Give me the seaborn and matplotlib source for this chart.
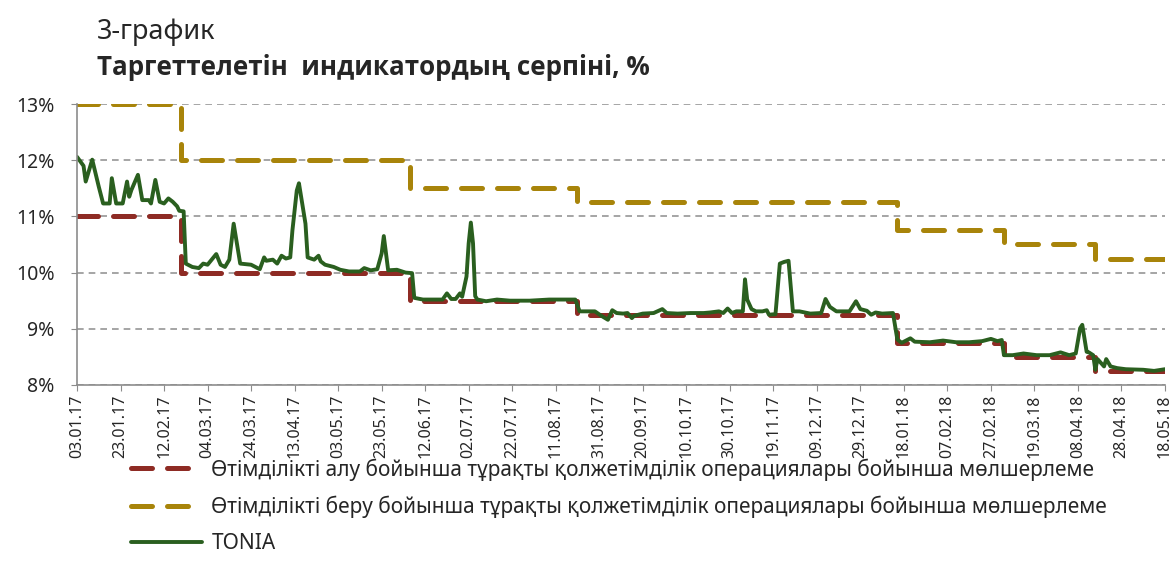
import pandas as pd
import numpy as np
import matplotlib
matplotlib.use('Agg')
import matplotlib.pyplot as plt
import matplotlib.dates as mdates
from matplotlib.ticker import FuncFormatter
import seaborn as sns

# corridor bounds (step start dates, rate in %)
band_dates = ['2017-01-03', '2017-02-20', '2017-06-05', '2017-08-21',
              '2018-01-15', '2018-03-05', '2018-04-16', '2018-05-18']
lower_rate = [11.0, 10.0, 9.5, 9.25, 8.75, 8.5, 8.25, 8.25]
upper_rate = [13.0, 12.0, 11.5, 11.25, 10.75, 10.5, 10.25, 10.25]

# TONIA (days after 03.01.2017, %)
tonia_day = [0, 3, 4, 7, 10, 12, 15, 16, 18, 21, 23, 24, 25, 28, 30, 33, 34, 36, 38, 40,
             42, 44, 46, 47, 49, 50, 53, 56, 58, 60, 64, 66, 68, 70, 72, 74, 75, 80, 84, 86,
             87, 90, 92, 94, 96, 98, 99, 101, 102, 103, 105, 106, 109, 111, 112, 114, 118, 121, 125, 130,
             132, 135, 138, 140, 141, 142, 143, 147, 151, 154, 155, 159, 166, 168, 170, 172, 174, 176, 177, 179,
             180, 181, 182, 183, 184, 188, 193, 199, 208, 217, 223, 229, 231, 234, 238, 241, 244, 246, 248, 251,
             253, 255, 256, 260, 265, 269, 271, 276, 282, 288, 291, 295, 297, 299, 301, 303, 306, 307, 308, 310,
             312, 315, 317, 318, 321, 323, 325, 327, 329, 332, 337, 342, 344, 346, 349, 355, 358, 360, 363, 365,
             367, 370, 375, 377, 379, 383, 385, 392, 398, 404, 410, 416, 420, 423, 425, 426, 430, 435, 441, 447,
             452, 456, 459, 461, 462, 464, 465, 467, 468, 469, 472, 473, 475, 478, 482, 490, 495, 500]
tonia_rate = [12.06, 11.90, 11.62, 12.01, 11.53, 11.23, 11.23, 11.68, 11.23, 11.23, 11.62, 11.35, 11.47, 11.74, 11.29, 11.29, 11.23, 11.65, 11.26, 11.23,
              11.32, 11.26, 11.18, 11.10, 11.09, 10.16, 10.10, 10.08, 10.16, 10.14, 10.33, 10.14, 10.10, 10.23, 10.87, 10.40, 10.16, 10.14, 10.06, 10.27,
              10.21, 10.23, 10.16, 10.30, 10.25, 10.27, 10.75, 11.46, 11.59, 11.35, 10.87, 10.27, 10.23, 10.30, 10.20, 10.14, 10.10, 10.05, 10.02, 10.02,
              10.08, 10.04, 10.06, 10.34, 10.65, 10.34, 10.04, 10.05, 10.00, 9.99, 9.55, 9.52, 9.52, 9.52, 9.63, 9.53, 9.53, 9.63, 9.57, 9.93,
              10.52, 10.89, 10.52, 9.58, 9.52, 9.49, 9.52, 9.50, 9.50, 9.52, 9.52, 9.52, 9.31, 9.31, 9.31, 9.23, 9.16, 9.33, 9.28, 9.27,
              9.28, 9.19, 9.23, 9.27, 9.28, 9.35, 9.28, 9.27, 9.28, 9.28, 9.29, 9.31, 9.28, 9.36, 9.28, 9.31, 9.31, 9.88, 9.52, 9.35,
              9.31, 9.31, 9.33, 9.25, 9.26, 10.16, 10.19, 10.21, 9.31, 9.31, 9.27, 9.28, 9.53, 9.39, 9.31, 9.31, 9.49, 9.35, 9.32, 9.25,
              9.29, 9.27, 9.28, 8.81, 8.75, 8.83, 8.77, 8.76, 8.79, 8.76, 8.76, 8.78, 8.82, 8.78, 8.80, 8.53, 8.53, 8.56, 8.53, 8.53,
              8.58, 8.53, 8.56, 9.01, 9.07, 8.59, 8.58, 8.53, 8.27, 8.46, 8.33, 8.46, 8.33, 8.30, 8.28, 8.27, 8.25, 8.28]

labels = ['Өтімділікті алу бойынша тұрақты қолжетімділік операциялары бойынша мөлшерлеме',
          'Өтімділікті беру бойынша тұрақты қолжетімділік операциялары бойынша мөлшерлеме',
          'TONIA']
colors = ['#8E2B24', '#A8840A', '#2A5F1F']

start = pd.Timestamp('2017-01-03')
end = pd.Timestamp('2018-05-18')
bands = pd.DataFrame({'date': pd.to_datetime(band_dates), 'lower': lower_rate, 'upper': upper_rate})
tonia = pd.DataFrame({'date': start + pd.to_timedelta(tonia_day, unit='D'), 'rate': tonia_rate})

sns.set_style('white')
plt.rcParams['font.family'] = ['Noto Sans', 'DejaVu Sans']

fig = plt.figure(figsize=(11.72, 5.78), dpi=100)
ax = fig.add_axes([0.0657, 0.334, 0.9283, 0.486])

for col, lab, c in [('lower', labels[0], colors[0]), ('upper', labels[1], colors[1])]:
    sns.lineplot(data=bands, x='date', y=col, ax=ax, color=c, lw=3.6, label=lab,
                 drawstyle='steps-post', linestyle=(0, (4.2, 3.0)), dash_capstyle='round')
sns.lineplot(data=tonia, x='date', y='rate', ax=ax, color=colors[2], lw=2.8, label=labels[2])

ax.set_xlim(start, end)
ax.set_ylim(8, 13)
ax.set_yticks(np.arange(8, 14, 1))
ax.yaxis.set_major_formatter(FuncFormatter(lambda v, p: f'{v:.0f}%'))
ax.set_xticks(pd.date_range(start, end, freq='20D'))
ax.xaxis.set_major_formatter(mdates.DateFormatter('%d.%m.%y'))
ax.tick_params(axis='x', rotation=90, labelsize=11.5, length=4, color='#8c8c8c', direction='out', bottom=True, pad=3)
ax.tick_params(axis='y', labelsize=14, length=4, color='#8c8c8c', direction='out', left=True, pad=12)
ax.set_xlabel('')
ax.set_ylabel('')
ax.grid(axis='y', color='#969696', linestyle=(0, (4, 3)), lw=1.2)
ax.set_axisbelow(True)
for s in ['top', 'right']:
    ax.spines[s].set_visible(False)
for s in ['left', 'bottom']:
    ax.spines[s].set_color('#8c8c8c')
    ax.spines[s].set_linewidth(1.2)

fig.text(0.083, 0.945, '3-график', fontsize=19.5, va='center', ha='left')
fig.text(0.083, 0.884, 'Таргеттелетін  индикатордың серпіні, %', fontsize=18.7, fontweight='bold',
         va='center', ha='left', family=['Open Sans', 'DejaVu Sans'])

leg = ax.legend(loc='upper left', bbox_to_anchor=(0.103, 0.225), bbox_transform=fig.transFigure,
                frameon=False, fontsize=15, handlelength=3.4, handletextpad=0.45,
                labelspacing=0.72, borderpad=0)

fig.savefig('out.png', dpi=100)
